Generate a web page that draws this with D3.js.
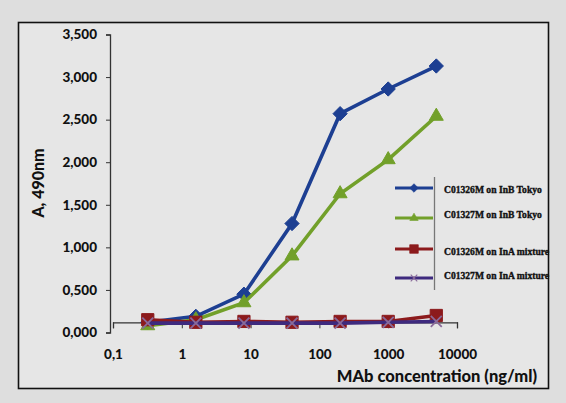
<!DOCTYPE html>
<html>
<head>
<meta charset="utf-8">
<script src="https://cdn.jsdelivr.net/npm/d3@7"></script>
<style>
  body { margin: 0; background: #dedede; }
  svg { display: block; }
  .tick text { font-family: Lato, "Open Sans", sans-serif; font-weight: 900; font-size: 13.5px; fill: #111; }
</style>
</head>
<body>
<div id="chart"></div>
<script>
// concentrations (ng/ml)
var conc = [0.32, 1.6, 8, 40, 200, 1000, 5000];
var blueVals = [0.12, 0.19, 0.45, 1.28, 2.57, 2.86, 3.13];
var greenVals = [0.08, 0.15, 0.35, 0.90, 1.63, 2.03, 2.54];
var redVals = [0.15, 0.12, 0.13, 0.12, 0.13, 0.13, 0.20];
var purpleVals = [0.11, 0.11, 0.11, 0.11, 0.11, 0.12, 0.13];
var seriesNames = ["C01326M on InB Tokyo", "C01327M on InB Tokyo", "C01326M on InA mixture", "C01327M on InA mixture"];
var yTicks = [0, 0.5, 1, 1.5, 2, 2.5, 3, 3.5];
var xTicks = [0.1, 1, 10, 100, 1000, 10000];
var xTickLabels = ["0,1", "1", "10", "100", "1000", "10000"];

createGraph();

function createGraph() {
    var W = 566, H = 403;
    var svg = d3.select("#chart").append("svg")
        .attr("width", W)
        .attr("height", H);

    // frame
    svg.append("rect")
        .attr("x", 18.5).attr("y", 22.5)
        .attr("width", 530).attr("height", 366)
        .attr("fill", "#e6e6e6")
        .attr("stroke", "#111")
        .attr("stroke-width", 1.6);

    var x = d3.scaleLog().domain([0.1, 10000]).range([113, 457]);
    var y = d3.scaleLinear().domain([0, 3.5]).range([332.5, 34.5]);

    // y axis
    svg.append("g")
        .attr("transform", "translate(110,0)")
        .call(d3.axisLeft(y).tickValues(yTicks).tickSize(4).tickPadding(9)
            .tickFormat(function(d) { return d3.format(".3f")(d).replace(".", ","); }))
        .call(function(g) {
            g.select(".domain").attr("stroke", "#333").attr("stroke-width", 1.3);
            g.selectAll(".tick line").attr("stroke", "#333");
        });

    // x axis crosses near the bottom
    var xg = svg.append("g")
        .attr("transform", "translate(0," + y(0.12) + ")")
        .call(d3.axisBottom(x).tickValues(xTicks).tickSize(6).tickPadding(21)
            .tickFormat(function(d, i) { return xTickLabels[i]; }));
    xg.select(".domain").attr("stroke", "#333").attr("stroke-width", 1.3);
    xg.selectAll(".tick line").attr("stroke", "#333");

    var series = [
        {name: seriesNames[0], vals: blueVals, color: "#1d3f92", marker: "diamond"},
        {name: seriesNames[1], vals: greenVals, color: "#72a02a", marker: "triangle"},
        {name: seriesNames[2], vals: redVals, color: "#8c1a1c", marker: "square"},
        {name: seriesNames[3], vals: purpleVals, color: "#3e2a7e", marker: "cross"}
    ];

    var line = d3.line()
        .x(function(d) { return x(d[0]); })
        .y(function(d) { return y(d[1]); });

    var symbols = {
        diamond: d3.symbol().type(d3.symbolDiamond2).size(130),
        triangle: d3.symbol().type(d3.symbolTriangle2).size(140),
        square: d3.symbol().type(d3.symbolSquare2).size(190),
        cross: d3.symbol().type(d3.symbolX).size(80)
    };

    function drawMarker(g, s, px, py, scale) {
        var p = g.append("path")
            .attr("d", symbols[s.marker]())
            .attr("transform", "translate(" + px + "," + py + ") scale(" + scale + ")");
        if (s.marker == "cross") {
            p.attr("fill", "none").attr("stroke", "#8a6a9a").attr("stroke-width", 1.8);
        } else {
            p.attr("fill", s.color).attr("stroke", s.color).attr("stroke-width", 1);
        }
    }

    series.forEach(function(s) {
        var pts = conc.map(function(c, i) { return [c, s.vals[i]]; });
        svg.append("path")
            .datum(pts)
            .attr("d", line)
            .attr("fill", "none")
            .attr("stroke", s.color)
            .attr("stroke-width", 3.6);
        pts.forEach(function(p) {
            drawMarker(svg, s, x(p[0]), y(p[1]), 1);
        });
    });

    // legend
    var legY = [188, 218, 249, 278];
    var textY = [193, 218, 255, 279];
    svg.append("line")
        .attr("x1", 434.5).attr("x2", 434.5)
        .attr("y1", 177).attr("y2", 290)
        .attr("stroke", "#777").attr("stroke-width", 1.3);
    series.forEach(function(s, i) {
        svg.append("line")
            .attr("x1", 395).attr("x2", 433)
            .attr("y1", legY[i]).attr("y2", legY[i])
            .attr("stroke", s.color).attr("stroke-width", 3);
        drawMarker(svg, s, 414, legY[i], s.marker == "square" ? 0.7 : 0.6);
        svg.append("text")
            .attr("x", 444)
            .attr("y", textY[i])
            .style("font-family", "'Liberation Serif', 'Times New Roman', serif")
            .style("font-weight", "bold")
            .style("font-size", "9.6px")
            .style("fill", "#111")
            .style("stroke", "#111")
            .style("stroke-width", 0.35)
            .text(s.name);
    });

    // axis titles
    svg.append("text")
        .attr("transform", "translate(44,183) rotate(-90)")
        .style("text-anchor", "middle")
        .style("font-family", "Lato, 'Open Sans', sans-serif")
        .style("font-weight", "900")
        .style("font-size", "16px")
        .style("fill", "#111")
        .text("A, 490nm");

    svg.append("text")
        .attr("x", 537).attr("y", 382)
        .style("text-anchor", "end")
        .style("font-family", "Lato, 'Open Sans', sans-serif")
        .style("font-weight", "900")
        .style("font-size", "16.5px")
        .style("fill", "#111")
        .text("MAb concentration (ng/ml)");
}
</script>
</body>
</html>
